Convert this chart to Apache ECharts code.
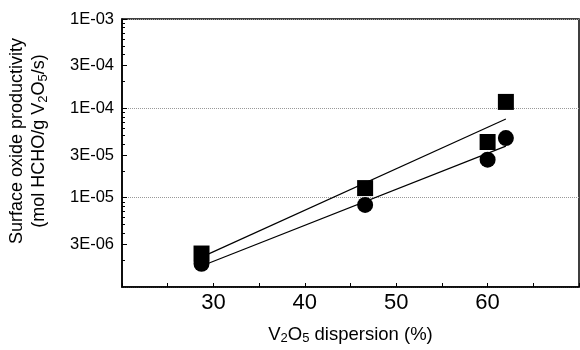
<!DOCTYPE html>
<html>
<head>
<meta charset="utf-8">
<script src="https://cdn.jsdelivr.net/npm/echarts@6/dist/echarts.min.js"></script>
<style>
  html, body { margin: 0; padding: 0; background: #fff; }
  #chart { width: 580px; height: 350px; }
</style>
</head>
<body>
<div id="chart"></div>
<script>
// V2O5 dispersion (%) for each catalyst
var dispersion = [28.7, 46.6, 60, 62];
// productivity, mol HCHO / g V2O5 / s
var squareRate = [2.37e-6, 1.28e-5, 4.2e-5, 1.18e-4];
var circleRate = [1.82e-6, 8.3e-6, 2.66e-5, 4.65e-5];
// fitted lines (end points)
var fitX = [28.7, 62];
var squareFit = [2.16e-6, 7.6e-5];
var circleFit = [1.72e-6, 3.78e-5];
// axis labels
var xTickLabels = [30, 40, 50, 60];
var yTickLabels = [3e-6, 1e-5, 3e-5, 1e-4, 3e-4, 1e-3];
var yDecades = [1e-6, 1e-5, 1e-4];
var yMinorSteps = [2, 4, 5, 6, 7, 8, 9];

var FONT = '"Liberation Sans", Arial, Helvetica, sans-serif';

function pairs(xs, ys) {
	var out = [];
	for (var i = 0; i < xs.length; i++) {
		out.push([xs[i], ys[i]]);
	}
	return out;
}

function fmtExp(v) {
	// v is log10 of the value
	var s = Math.pow(10, v).toExponential(0);
	var parts = s.split('e');
	var e = parseInt(parts[1], 10);
	var sign = e < 0 ? '-' : '+';
	var abs = Math.abs(e);
	return parts[0] + 'E' + sign + (abs < 10 ? '0' + abs : abs);
}

var labelLogs = yTickLabels.map(function (v) { return Math.log10(v); });
var minorLogs = [];
for (var d = 0; d < yDecades.length; d++) {
	for (var k = 0; k < yMinorSteps.length; k++) {
		minorLogs.push(Math.log10(yDecades[d] * yMinorSteps[k]));
	}
}

var chart = echarts.init(document.getElementById('chart'));
var option = {
	animation: false,
	backgroundColor: '#fff',
	textStyle: { fontFamily: FONT, color: '#000' },
	grid: {
		left: 122, right: 1, top: 19, bottom: 63,
		show: true, borderColor: '#000', borderWidth: 1.5
	},
	xAxis: {
		type: 'value',
		min: 20, max: 70, interval: 5,
		axisLine: { lineStyle: { color: '#000', width: 1.5 } },
		axisTick: { inside: true, length: 4, lineStyle: { color: '#000' } },
		axisLabel: {
			customValues: xTickLabels,
			fontSize: 22, color: '#000', margin: 5, fontFamily: FONT
		},
		splitLine: { show: false },
		name: '{n|V}{s|2}{n|O}{s|5}{n| dispersion (%)}',
		nameLocation: 'middle',
		nameGap: 38,
		nameTextStyle: {
			rich: {
				n: { fontSize: 18.5, fontFamily: FONT, color: '#000' },
				s: { fontSize: 13, fontFamily: FONT, color: '#000', verticalAlign: 'bottom', padding: [7, 0, 0, 0] }
			}
		}
	},
	yAxis: [
		{
			type: 'log', logBase: 10,
			min: 1e-6, max: 1e-3,
			position: 'left',
			axisLine: { show: true, lineStyle: { color: '#000', width: 1.5 } },
			axisTick: { show: false },
			axisLabel: { show: false },
			splitLine: { show: true, lineStyle: { color: '#999', type: 'dotted', width: 1 } }
		},
		{
			type: 'value',
			min: -6, max: -3,
			position: 'left',
			axisLine: { show: false },
			axisTick: { show: true, inside: true, length: 5, customValues: labelLogs, lineStyle: { color: '#000' } },
			axisLabel: {
				customValues: labelLogs,
				formatter: fmtExp,
				fontSize: 16.5, color: '#000', margin: 8, fontFamily: FONT
			},
			splitLine: { show: false }
		},
		{
			type: 'value',
			min: -6, max: -3,
			position: 'left',
			axisLine: { show: false },
			axisTick: { show: true, inside: true, length: 3, customValues: minorLogs, lineStyle: { color: '#000' } },
			axisLabel: { show: false },
			splitLine: { show: false }
		}
	],
	graphic: [
		{
			type: 'text',
			x: 28, y: 141,
			rotation: Math.PI / 2,
			style: {
				text: '{n|Surface oxide productivity}\n{n|(mol HCHO/g V}{s|2}{n|O}{s|5}{n|/s)}',
				textAlign: 'center',
				textVerticalAlign: 'middle',
				rich: {
					n: { fontSize: 18, fontFamily: FONT, fill: '#000', lineHeight: 22 },
					s: { fontSize: 13, fontFamily: FONT, fill: '#000', lineHeight: 22, verticalAlign: 'bottom', padding: [7, 0, 0, 0] }
				}
			}
		}
	],
	series: [
		{
			type: 'line', yAxisIndex: 0, data: pairs(fitX, squareFit),
			symbol: 'none', lineStyle: { color: '#000', width: 1.2 }, z: 2
		},
		{
			type: 'line', yAxisIndex: 0, data: pairs(fitX, circleFit),
			symbol: 'none', lineStyle: { color: '#000', width: 1.2 }, z: 2
		},
		{
			type: 'scatter', yAxisIndex: 0, data: pairs(dispersion, squareRate),
			symbol: 'rect', symbolSize: 16, itemStyle: { color: '#000', opacity: 1 }, z: 3
		},
		{
			type: 'scatter', yAxisIndex: 0, data: pairs(dispersion, circleRate),
			symbol: 'circle', symbolSize: 16, itemStyle: { color: '#000', opacity: 1 }, z: 3
		}
	]
};
chart.setOption(option);
</script>
</body>
</html>
